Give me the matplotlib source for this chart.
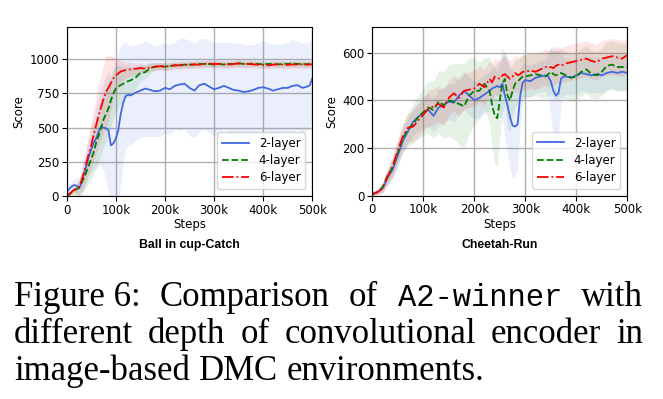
import numpy as np
import matplotlib
matplotlib.use('Agg')
import matplotlib.pyplot as plt

# ---- Ball in cup-Catch (steps in k) ----
steps_a = [0, 5, 10, 15, 20, 25, 30, 35, 40, 45, 50, 55, 60, 65, 70, 75, 80, 85, 90, 95,
           100, 105, 110, 115, 120, 125, 130, 140, 150, 160, 170, 180, 190, 200, 210, 220,
           230, 240, 250, 260, 270, 280, 290, 300, 310, 320, 330, 340, 350, 360, 370, 380,
           390, 400, 410, 420, 430, 440, 450, 460, 470, 480, 490, 495, 500]
a_2layer = [30, 50, 70, 80, 75, 55, 95, 160, 220, 290, 340, 390, 420, 470, 505, 500, 495, 480, 370, 385,
            420, 480, 600, 680, 730, 740, 735, 755, 770, 785, 775, 765, 770, 790, 780, 805,
            815, 820, 790, 770, 810, 820, 800, 780, 790, 805, 790, 775, 770, 760, 765, 775,
            790, 795, 785, 770, 780, 790, 790, 805, 810, 790, 800, 810, 860]
a_4layer = [0, 10, 25, 40, 50, 60, 95, 130, 175, 225, 270, 320, 390, 440, 500, 560, 600, 640, 700, 750,
            785, 800, 810, 820, 830, 840, 845, 865, 900, 905, 935, 945, 950, 945, 950, 955,
            955, 960, 960, 960, 965, 965, 965, 960, 965, 960, 965, 965, 970, 965, 965, 968,
            965, 962, 965, 965, 962, 965, 965, 968, 965, 965, 962, 965, 965]
a_6layer = [0, 15, 30, 45, 50, 65, 110, 170, 240, 310, 370, 450, 520, 590, 650, 710, 760, 790, 825, 860,
            880, 895, 910, 915, 920, 925, 925, 930, 935, 930, 940, 945, 948, 945, 950, 955,
            955, 958, 960, 962, 960, 965, 968, 965, 965, 962, 960, 965, 968, 965, 965, 962,
            960, 958, 955, 960, 962, 960, 958, 962, 960, 962, 960, 962, 962]
a_2layer_std = [20, 30, 40, 50, 60, 70, 90, 110, 130, 150, 170, 190, 220, 250, 280, 320, 380, 440, 480, 520,
                550, 560, 500, 430, 390, 370, 360, 350, 340, 350, 340, 330, 340, 330, 330, 320,
                340, 330, 350, 340, 340, 330, 340, 340, 330, 320, 330, 340, 350, 350, 340, 330,
                330, 340, 330, 340, 330, 320, 330, 340, 320, 330, 320, 320, 290]
a_4layer_std = [10, 15, 20, 30, 40, 50, 70, 90, 110, 130, 150, 165, 180, 190, 200, 200, 200, 195, 190, 180,
                170, 155, 140, 130, 120, 110, 100, 80, 60, 50, 40, 30, 25, 25, 25, 22,
                22, 22, 22, 22, 22, 22, 22, 22, 22, 22, 22, 22, 22, 22, 22, 22,
                22, 22, 22, 22, 22, 22, 22, 22, 22, 22, 22, 22, 22]
a_6layer_std = [10, 15, 20, 30, 40, 60, 80, 100, 120, 145, 170, 190, 210, 225, 240, 250, 260, 240, 200, 160,
                130, 100, 80, 70, 60, 55, 50, 40, 35, 30, 30, 28, 28, 28, 28, 28,
                28, 28, 28, 28, 28, 28, 28, 28, 28, 28, 28, 28, 28, 28, 28, 28,
                28, 28, 28, 28, 28, 28, 28, 28, 28, 28, 28, 28, 28]

# ---- Cheetah-Run (steps in k) ----
steps_b = [0, 10, 20, 30, 40, 50, 60, 70, 80, 90, 100, 110, 120, 130, 140, 150, 160, 170, 180, 190,
           200, 210, 220, 230, 235, 240, 245, 250, 255, 260, 265, 270, 275, 280, 285, 290,
           295, 300, 310, 320, 330, 340, 345, 350, 355, 360, 365, 370, 375, 380, 390, 400,
           410, 420, 430, 440, 450, 460, 470, 480, 490, 500]
b_2layer = [10, 15, 30, 75, 110, 170, 230, 270, 310, 330, 350, 360, 335, 370, 380, 395, 390, 420, 440, 420,
            400, 410, 425, 440, 450, 455, 460, 455, 470, 420, 380, 330, 295, 290, 300, 420,
            475, 485, 480, 495, 500, 505, 500, 480, 440, 420, 430, 490, 500, 500, 495, 505,
            515, 510, 505, 510, 505, 515, 520, 515, 520, 515]
b_4layer = [5, 15, 35, 85, 120, 180, 240, 280, 300, 330, 350, 370, 360, 395, 380, 400, 395, 385, 375, 420,
            440, 440, 470, 440, 380, 335, 325, 400, 470, 490, 420, 400, 440, 470, 480, 490,
            500, 500, 505, 510, 505, 500, 510, 520, 510, 505, 510, 515, 510, 505, 495, 500,
            520, 530, 510, 505, 520, 545, 550, 540, 540, 540]
b_6layer = [5, 15, 30, 80, 125, 190, 250, 285, 290, 315, 340, 365, 375, 385, 370, 410, 430, 410, 440, 445,
            450, 470, 455, 490, 475, 500, 495, 490, 505, 510, 500, 490, 500, 515, 505, 510,
            520, 520, 525, 520, 530, 540, 535, 540, 535, 545, 550, 545, 550, 555, 560, 565,
            570, 575, 565, 560, 575, 580, 585, 580, 575, 590]
b_2layer_std = [5, 10, 20, 30, 40, 45, 50, 55, 60, 60, 65, 70, 70, 75, 75, 75, 80, 80, 80, 80,
                80, 80, 80, 80, 85, 90, 100, 120, 150, 180, 200, 220, 220, 210, 180, 120,
                80, 70, 65, 65, 65, 70, 90, 140, 190, 200, 180, 110, 80, 75, 75, 75,
                75, 75, 75, 75, 75, 75, 75, 75, 75, 75]
b_4layer_std = [5, 10, 20, 35, 45, 55, 60, 70, 80, 90, 100, 110, 120, 130, 140, 150, 160, 170, 175, 160,
                140, 120, 110, 140, 180, 200, 200, 160, 120, 110, 140, 130, 110, 100, 95, 90,
                90, 90, 90, 90, 95, 95, 95, 95, 95, 100, 100, 100, 100, 100, 100, 100,
                100, 100, 100, 100, 100, 100, 100, 100, 100, 100]
b_6layer_std = [5, 10, 20, 30, 40, 50, 55, 60, 65, 70, 70, 75, 75, 75, 75, 75, 75, 75, 75, 75,
                75, 75, 75, 75, 75, 75, 75, 75, 75, 75, 75, 75, 75, 75, 75, 75,
                75, 75, 75, 75, 75, 75, 75, 75, 75, 75, 75, 75, 75, 75, 75, 75,
                75, 75, 75, 75, 75, 75, 75, 75, 75, 75]

labels = ['2-layer', '4-layer', '6-layer']
colors = ['#4169e1', 'green', 'red']
styles = ['-', '--', '-.']

W, H = 663, 399
fig = plt.figure(figsize=(W / 100, H / 100), dpi=100)


def box(x0, y0, x1, y1):
    # pixel box (top-left origin) -> figure fraction rect
    return [x0 / W, 1 - y1 / H, (x1 - x0) / W, (y1 - y0) / H]


def panel(rect, steps, means, stds, ylim, yticks, title):
    ax = fig.add_axes(rect)
    x = np.array(steps) * 1000
    for m, s, c, ls, lab in zip(means, stds, colors, styles, labels):
        m = np.array(m, dtype=float)
        s = np.array(s, dtype=float)
        ax.fill_between(x, m - s, m + s, color=c, alpha=0.1, lw=0)
        ax.plot(x, m, ls, color=c, lw=1.3, label=lab)
    ax.set_xlim(0, 500000)
    ax.set_ylim(*ylim)
    ax.set_xticks([0, 100000, 200000, 300000, 400000, 500000])
    ax.set_xticklabels(['0', '100k', '200k', '300k', '400k', '500k'])
    ax.set_yticks(yticks)
    ax.tick_params(labelsize=8.5, length=3.5, pad=2)
    ax.grid(True, color='#b0b0b0', lw=1)
    ax.set_axisbelow(True)
    ax.set_xlabel('Steps', fontsize=8.5, labelpad=1)
    ax.set_ylabel('Score', fontsize=8.5, labelpad=3)
    ax.legend(loc='lower right', fontsize=8.5, handlelength=2.3, borderpad=0.4,
              labelspacing=0.35, borderaxespad=0.6)
    ax.text(0.5, -0.29, title, transform=ax.transAxes, ha='center', va='center',
            fontsize=8.8, fontweight='bold', family='Liberation Sans')
    return ax


panel(box(66.7, 27, 312.3, 196), steps_a, [a_2layer, a_4layer, a_6layer],
      [a_2layer_std, a_4layer_std, a_6layer_std], (0, 1235), [0, 250, 500, 750, 1000],
      'Ball in cup-Catch')
panel(box(372.3, 26.7, 627.3, 195.7), steps_b, [b_2layer, b_4layer, b_6layer],
      [b_2layer_std, b_4layer_std, b_6layer_std], (0, 709), [0, 200, 400, 600],
      'Cheetah-Run')

# caption, justified between x_left and x_right like the paper text
serif_size = 25
serif = dict(family='Liberation Serif', fontsize=serif_size, va='baseline')
mono = dict(family='Liberation Mono', fontsize=22, va='baseline')
x_left, x_right = 14, 643
caption = [
    (306, [('Figure 6:', serif), ('Comparison', serif), ('of', serif),
           ('A2-winner', mono), ('with', serif)], True),
    (343.3, [('different', serif), ('depth', serif), ('of', serif),
             ('convolutional', serif), ('encoder', serif), ('in', serif)], True),
    (380.5, [('image-based', serif), ('DMC', serif), ('environments.', serif)], False),
]
renderer = fig.canvas.get_renderer()
for yb, words, justify in caption:
    objs = [fig.text(0, 1 - yb / H, w, **st) for w, st in words]
    widths = [o.get_window_extent(renderer).width for o in objs]
    if justify:
        gap = (x_right - x_left - sum(widths)) / (len(objs) - 1)
    else:
        gap = 0.25 * serif_size * 100 / 72
    xp = x_left
    for o, wd in zip(objs, widths):
        o.set_x(xp / W)
        xp += wd + gap

fig.savefig('out.png', dpi=100)
